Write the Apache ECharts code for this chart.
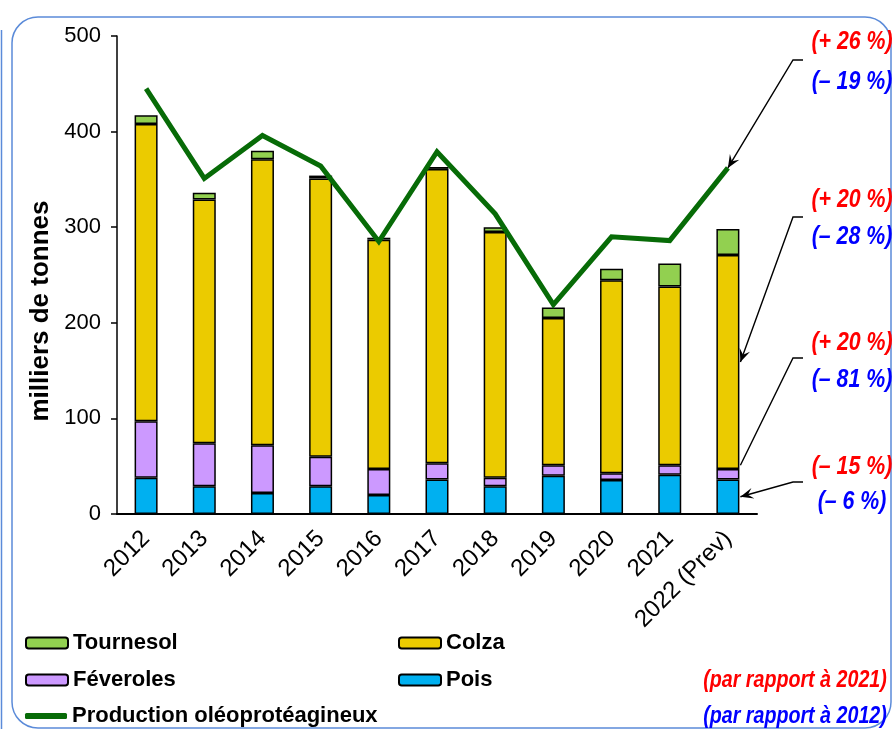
<!DOCTYPE html>
<html>
<head>
<meta charset="utf-8">
<script src="https://cdn.jsdelivr.net/npm/echarts@6/dist/echarts.min.js"></script>
<style>
html,body{margin:0;padding:0;background:#fff;}
#c{width:893px;height:729px;}
</style>
</head>
<body>
<div id="c"></div>
<script>
const categories = ['2012','2013','2014','2015','2016','2017','2018','2019','2020','2021','2022 (Prev)'];
const pois       = [38, 29, 22, 29, 20, 36, 29, 40, 35.5, 41, 36];
const feveroles  = [59, 45, 50, 31, 27, 17,  9, 11,  7,   10, 11];
const colza      = [311,255,299,291,240,308,257,154,202, 187,224];
const tournesol  = [9,  7,  9,  3,  2,  2,  5, 11, 12,   24, 27];
const production = [445,351,396,364,285,379,314,219,290, 286,362];
const yTicks = [0,100,200,300,400,500];
const changeVs2021 = ['(+ 26 %)','(+ 20 %)','(+ 20 %)','(– 15 %)'];
const changeVs2012 = ['(– 19 %)','(– 28 %)','(– 81 %)','(– 6 %)'];
const noteRef = ['(par rapport à 2021)','(par rapport à 2012)'];

const SANS = '"Liberation Sans",Arial,sans-serif';
const chart = echarts.init(document.getElementById('c'), null, {renderer:'canvas'});

const barStyle = (c) => ({color:c, borderColor:'#000', borderWidth:1.5});
const legendCommon = {
  orient:'horizontal', padding:0, itemWidth:42, itemHeight:11, selectedMode:false,
  textStyle:{fontFamily:SANS, fontWeight:'bold', fontSize:22, color:'#000'}
};

chart.setOption({
  animation:false,
  backgroundColor:'#fff',
  grid:{left:117, right:136, top:36, bottom:215, containLabel:false, outerBoundsMode:'none'},
  xAxis:{
    type:'category', data:categories, boundaryGap:true,
    axisLine:{lineStyle:{color:'#000', width:2}},
    axisTick:{show:false},
    axisLabel:{rotate:45, interval:0, margin:21, fontFamily:SANS, fontSize:24, color:'#000'}
  },
  yAxis:{
    type:'value', min:0, max:500, interval:100,
    splitLine:{show:false},
    axisLine:{show:true, lineStyle:{color:'#000', width:1.5}},
    axisTick:{show:true, inside:false, length:6, lineStyle:{color:'#000', width:1.5}},
    axisLabel:{margin:16, fontFamily:SANS, fontSize:22, color:'#000',
      formatter:(v)=> yTicks.includes(v) ? String(v) : ''},
    name:'milliers de tonnes', nameLocation:'middle', nameRotate:90, nameGap:56,
    nameTextStyle:{fontFamily:SANS, fontWeight:'bold', fontSize:26, color:'#000', padding:[0,72,0,0]}
  },
  legend:[
    Object.assign({}, legendCommon, {left:25, top:632, data:['Tournesol']}),
    Object.assign({}, legendCommon, {left:398, top:632, data:['Colza']}),
    Object.assign({}, legendCommon, {left:25, top:669, data:['Féveroles']}),
    Object.assign({}, legendCommon, {left:398, top:669, data:['Pois']}),
    Object.assign({}, legendCommon, {left:25, top:705, itemHeight:6,
      data:[{name:'Production oléoprotéagineux', icon:'roundRect', itemStyle:{color:'#076B07', borderWidth:0}}]})
  ],
  series:[
    {name:'Pois', type:'bar', stack:'s', barWidth:23, data:pois, itemStyle:barStyle('#00B0F0')},
    {name:'Féveroles', type:'bar', stack:'s', barWidth:23, data:feveroles, itemStyle:barStyle('#CC99FF')},
    {name:'Colza', type:'bar', stack:'s', barWidth:23, data:colza, itemStyle:barStyle('#EBCB00')},
    {name:'Tournesol', type:'bar', stack:'s', barWidth:23, data:tournesol, itemStyle:barStyle('#92D050')},
    {name:'Production oléoprotéagineux', type:'line', data:production, symbol:'none', z:5,
      lineStyle:{color:'#076B07', width:5, join:'miter'}, itemStyle:{color:'#076B07'}}
  ]
});

// annotation graphics, anchored to data points of the last category
const last = categories.length - 1;
const px = (v) => chart.convertToPixel({xAxisIndex:0, yAxisIndex:0}, [last, v]);
const barHalf = 12.5;
const p0 = pois[last], f0 = feveroles[last], c0 = colza[last];
const tips = [
  {pt: px(production[last]), head:true, y0:60},
  {pt: (()=>{const p=px(p0+f0+c0/2); return [p[0]+barHalf, p[1]];})(), head:true, y0:217},
  {pt: (()=>{const p=px(p0+f0+4); return [p[0]+barHalf, p[1]];})(), head:false, y0:358},
  {pt: (()=>{const p=px(p0/2); return [p[0]+barHalf, p[1]];})(), head:true, y0:482}
];
const labelY = [[42,82],[200,237],[343,380],[467,502]];
const g = [];
g.push({type:'rect', shape:{x:12, y:17, width:879, height:711, r:26}, style:{fill:null, stroke:'#5B8BD9', lineWidth:1.5}, z:0});
g.push({type:'line', shape:{x1:1.5, y1:30, x2:1.5, y2:729}, style:{stroke:'#5B8BD9', lineWidth:1.5}, z:0});
tips.forEach((t, i) => {
  const sx = 803, bx = 793, sy = t.y0;
  g.push({type:'polyline', shape:{points:[[sx,sy],[bx,sy],t.pt]}, style:{stroke:'#000', lineWidth:1.4, fill:null}, z:10});
  if (t.head) {
    const dx = t.pt[0]-bx, dy = t.pt[1]-sy, L = Math.hypot(dx,dy);
    const ux = dx/L, uy = dy/L, nx = -uy, ny = ux, len = 13, w = 5.5;
    const tip = t.pt;
    const b = [tip[0]-ux*len, tip[1]-uy*len];
    const notch = [tip[0]-ux*len*0.6, tip[1]-uy*len*0.6];
    g.push({type:'polygon', shape:{points:[tip,[b[0]+nx*w,b[1]+ny*w],notch,[b[0]-nx*w,b[1]-ny*w]]}, style:{fill:'#000'}, z:11});
  }
  g.push({type:'text', x:852, y:labelY[i][0], scaleX:0.82, z:12,
    style:{text:changeVs2021[i], fill:'#FF0000', font:'italic bold 26px "Liberation Sans",Arial,sans-serif', align:'center', verticalAlign:'middle'}});
  g.push({type:'text', x:852, y:labelY[i][1], scaleX:0.82, z:12,
    style:{text:changeVs2012[i], fill:'#0000FF', font:'italic bold 26px "Liberation Sans",Arial,sans-serif', align:'center', verticalAlign:'middle'}});
});
g.push({type:'text', x:795, y:680, scaleX:0.82, z:12,
  style:{text:noteRef[0], fill:'#FF0000', font:'italic bold 24px "Liberation Sans",Arial,sans-serif', align:'center', verticalAlign:'middle'}});
g.push({type:'text', x:795, y:716, scaleX:0.82, z:12,
  style:{text:noteRef[1], fill:'#0000FF', font:'italic bold 24px "Liberation Sans",Arial,sans-serif', align:'center', verticalAlign:'middle'}});
chart.setOption({graphic:g});
</script>
</body>
</html>
